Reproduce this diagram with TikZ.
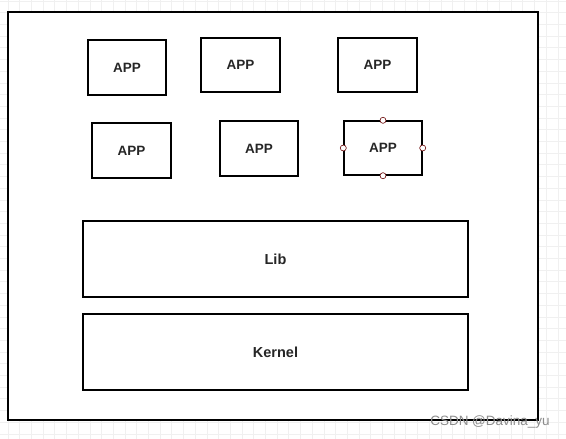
\documentclass[tikz,border=0pt]{standalone}
\usepackage{fontspec}
\setmainfont{Liberation Sans}
\begin{document}
\begin{tikzpicture}[x=1pt,y=-1pt,
  box/.style={draw=black,line width=1.4pt,fill=white,font=\fontsize{13.5}{15}\selectfont\bfseries,text=black!85},
  port/.style={circle,draw=red!40!black,fill=white,line width=0.6pt,inner sep=0pt,minimum size=6pt}]
\useasboundingbox (0,0) rectangle (566,439);
\fill[white] (0,0) rectangle (566,439);
\foreach \i in {0,...,48} {\draw[black!6,line width=0.8pt] (8+11.7*\i,0) -- (8+11.7*\i,439);}
\foreach \j in {0,...,37} {\draw[black!6,line width=0.8pt] (0,1+11.7*\j) -- (566,1+11.7*\j);}
\node[draw=black,line width=1.6pt,fill=white,minimum width=530pt,minimum height=408pt,inner sep=0pt] (outer) at (273,216) {};
\node[box,minimum width=78pt,minimum height=55pt,inner sep=0pt] (a1) at (127,67.5) {APP};
\node[box,minimum width=79pt,minimum height=54pt,inner sep=0pt] (a2) at (240.5,65) {APP};
\node[box,minimum width=79pt,minimum height=54pt,inner sep=0pt] (a3) at (377.5,65) {APP};
\node[box,minimum width=79pt,minimum height=55pt,inner sep=0pt] (a4) at (131.5,150.5) {APP};
\node[box,minimum width=78pt,minimum height=55pt,inner sep=0pt] (a5) at (259,148.5) {APP};
\node[box,minimum width=78pt,minimum height=54pt,inner sep=0pt] (a6) at (383,148) {APP};
\node[port] (p1) at (a6.north) {};
\node[port] (p2) at (a6.south) {};
\node[port] (p3) at (a6.west) {};
\node[port] (p4) at (a6.east) {};
\node[box,minimum width=385pt,minimum height=76pt,inner sep=0pt,font=\fontsize{14.5}{16}\selectfont\bfseries] (lib) at (275.5,259) {Lib};
\node[box,minimum width=385pt,minimum height=76pt,inner sep=0pt,font=\fontsize{14.5}{16}\selectfont\bfseries] (kernel) at (275.5,352) {Kernel};
\node[text=black!45,font=\fontsize{13.5}{15}\selectfont,anchor=center] (wm) at (490,422) {CSDN @Davina\_yu};
\end{tikzpicture}
\end{document}
